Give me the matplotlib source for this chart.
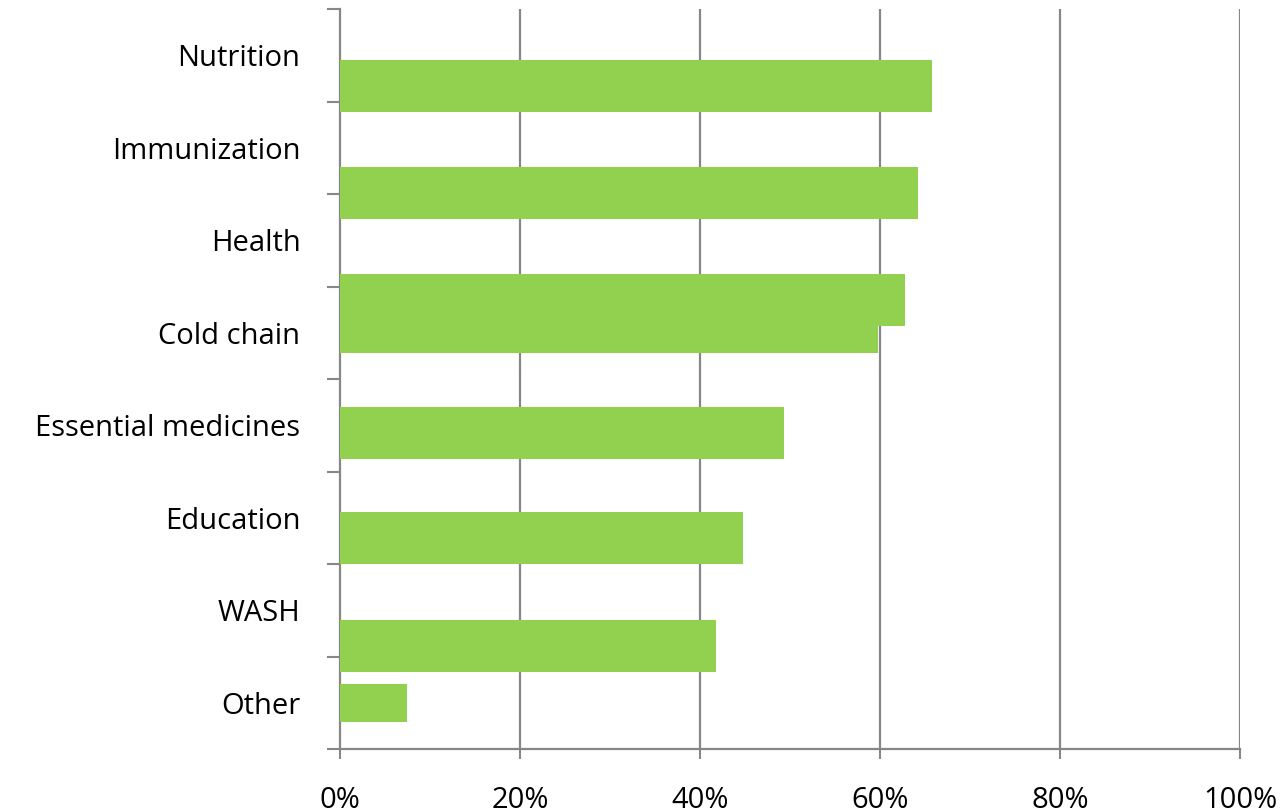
import matplotlib
matplotlib.use("Agg")
import matplotlib.pyplot as plt
import numpy as np

# ---- data ----
categories = ["Nutrition", "Immunization", "Health", "Cold chain",
              "Essential medicines", "Education", "WASH", "Other"]
values = [65.8, 64.2, 62.8, 59.8, 49.3, 44.8, 41.8, 7.4]   # percent
xticks = [0, 20, 40, 60, 80, 100]
xtick_labels = ["0%", "20%", "40%", "60%", "80%", "100%"]

# layout (as in the reference, bars sit offset from their label slots)
bar_offsets = [0.335, 0.49, 0.65, -0.065, 0.086, 0.22, 0.39, 0.0]
bar_heights = [0.56, 0.56, 0.56, 0.56, 0.56, 0.56, 0.56, 0.41]

GREEN = "#92D050"
GRAY = "#878787"
FONT = ["Open Sans", "DejaVu Sans"]

fig = plt.figure(figsize=(12.85, 8.11), dpi=100)
ax = fig.add_axes([340/1285, 1-749/811, 900/1285, 740/811])

n = len(categories)
idx = np.arange(n)
ax.barh(idx + np.array(bar_offsets), values, height=bar_heights,
        color=GREEN, zorder=3, linewidth=0)

ax.set_xlim(0, 100)
ax.set_ylim(n - 0.5, -0.5)

# x axis
ax.set_xticks(xticks)
ax.set_xticklabels(xtick_labels, fontsize=21, family=FONT)
ax.tick_params(axis="x", which="major", length=7.5, width=1.5, color=GRAY,
               pad=19, direction="out")
for xv in xticks[1:]:
    ax.axvline(xv, color=GRAY, linewidth=1.6, zorder=1)

# y axis: boundary ticks, labels at slot centers
ax.set_yticks(np.arange(n + 1) - 0.5)
ax.set_yticklabels([])
ax.tick_params(axis="y", which="major", length=9.5, width=1.5, color=GRAY,
               direction="out")
ax.set_yticks(idx, minor=True)
ax.set_yticklabels(categories, minor=True, fontsize=21, family=FONT)
ax.tick_params(axis="y", which="minor", length=0, pad=28.5)

for s in ["top", "right"]:
    ax.spines[s].set_visible(False)
for s in ["left", "bottom"]:
    ax.spines[s].set_color(GRAY)
    ax.spines[s].set_linewidth(1.6)

fig.savefig("out.png", dpi=100)
